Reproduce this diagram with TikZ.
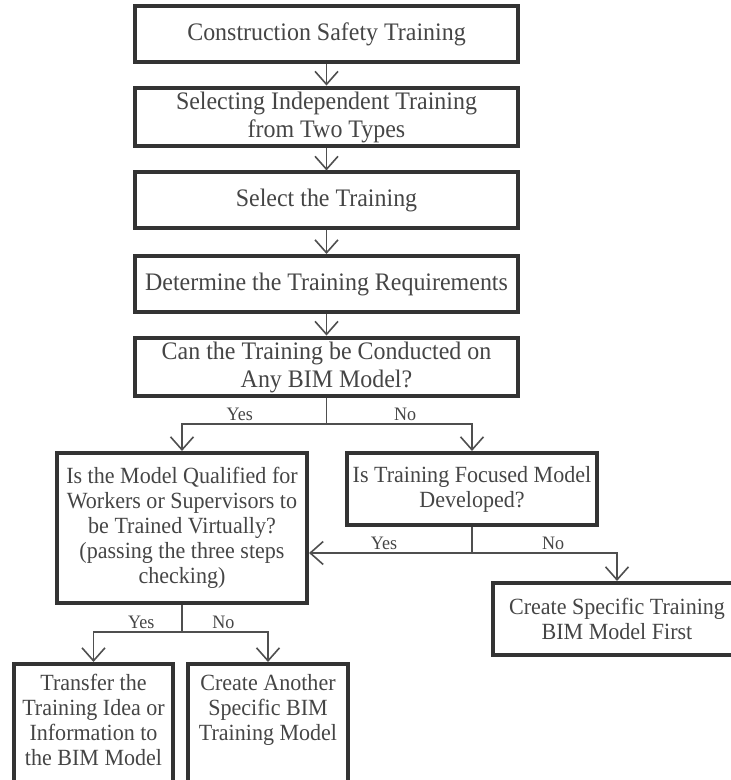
\documentclass[tikz,border=0pt]{standalone}
\usepackage{fontspec}
\setmainfont{Liberation Serif}[FakeStretch=0.95]
\usetikzlibrary{arrows.meta}
\definecolor{boxcol}{HTML}{333333}
\definecolor{txtcol}{HTML}{454545}
\definecolor{linecol}{HTML}{4F4F4F}

\begin{document}
\begin{tikzpicture}[x=0.5pt, y=-0.5pt,
  box/.style={draw=boxcol, line width=2pt, text=txtcol, align=center, inner sep=2pt, font=\fontsize{12.6}{14}\selectfont},
  topbox/.style={box, minimum width=191.5pt, minimum height=28pt},
  qbox/.style={box, font=\fontsize{11.6}{12.5}\selectfont},
  link/.style={draw=linecol, line width=0.8pt},
  arr/.style={link, -{Straight Barb[length=6.5pt, width=11.5pt]}},
  lab/.style={text=txtcol, font=\fontsize{9.5}{10}\selectfont, inner sep=1.5pt}]
  \useasboundingbox (0,0) rectangle (731,780);
  \clip (0,0) rectangle (731,780);
  % main column
  \node[topbox] (cst) at (326.5,34.5) {Construction Safety Training};
  \node[topbox] (sel) at (326.5,117) {Selecting Independent Training\\from Two Types};
  \node[topbox] (pick) at (326.5,200.5) {Select the Training};
  \node[topbox] (req) at (326.5,284) {Determine the Training Requirements};
  \node[topbox] (chk) at (326.5,367) {Can the Training be Conducted on\\Any BIM Model?};
  % questions
  \node[qbox, minimum width=125pt, minimum height=75pt] (qual) at (182,528) {Is the Model Qualified for\\Workers or Supervisors to\\be Trained Virtually?\\(passing the three steps\\checking)};
  \node[qbox, minimum width=125pt, minimum height=36pt] (devd) at (472,489) {Is Training Focused Model\\Developed?};
  \node[qbox, minimum width=124pt, minimum height=36pt] (spec) at (617,619) {Create Specific Training\\BIM Model First};
  % bottom boxes (cut by the page)
  \node[qbox, anchor=north, minimum width=79.5pt, inner ysep=5pt] (xfer) at (93.5,662) {Transfer the\\Training Idea or\\Information to\\the BIM Model\\\mbox{}\\\mbox{}};
  \node[qbox, anchor=north, minimum width=80pt, inner ysep=5pt] (anot) at (268,662) {Create Another\\Specific BIM\\Training Model\\\mbox{}\\\mbox{}\\\mbox{}};
  \coordinate (s5) at (326.5,424);
  \coordinate (s7) at (472,553);
  \coordinate (s6) at (182,632);
  \draw[arr] (cst) -- (sel);
  \draw[arr] (sel) -- (pick);
  \draw[arr] (pick) -- (req);
  \draw[arr] (req) -- (chk);
  \draw[link] (chk) -- (s5);
  \draw[arr] (s5) -| node[lab, above, pos=0.3] {Yes} (qual);
  \draw[arr] (s5) -| node[lab, above, pos=0.27] {No} (devd);
  \draw[link] (devd) -- (s7);
  \draw[arr] (s7) -- node[lab, above, pos=0.54] {Yes} (s7 -| qual.east);
  \draw[arr] (s7) -| node[lab, above, pos=0.28] {No} (spec);
  \draw[link] (qual) -- (s6);
  \draw[arr] (s6) -| node[lab, above, pos=0.23] {Yes} (xfer);
  \draw[arr] (s6) -| node[lab, above, pos=0.24] {No} (anot);
\end{tikzpicture}
\end{document}
